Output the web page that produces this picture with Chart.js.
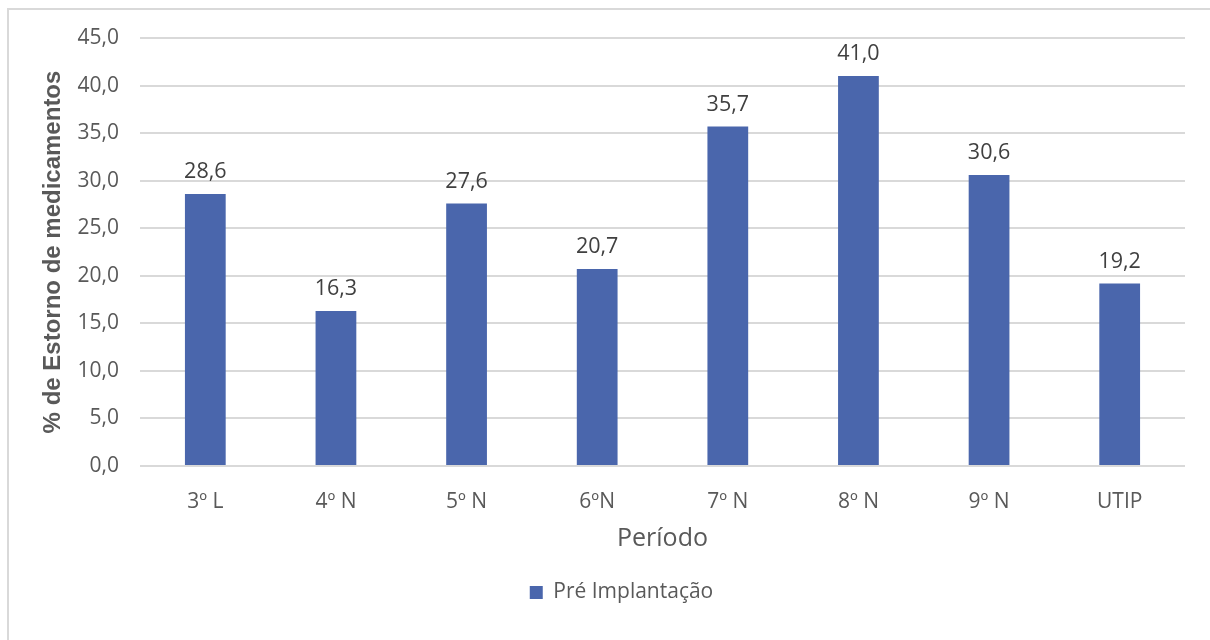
<!DOCTYPE html>
<html lang="pt">
<head>
<meta charset="utf-8">
<title>Estorno de medicamentos por período</title>
<script src="https://cdn.jsdelivr.net/npm/chart.js@4/dist/chart.umd.min.js"></script>
<style>
  html, body { margin: 0; padding: 0; background: #ffffff; }
  #wrap { position: relative; width: 1210px; height: 640px; overflow: hidden; }
  #frame {
    position: absolute; left: 7px; top: 8px; width: 1240px; height: 700px;
    border: 2px solid #d9d9d9; box-sizing: border-box;
  }
  #chart { position: absolute; left: 0; top: 0; }
</style>
</head>
<body>
<div id="wrap">
  <div id="frame"></div>
  <canvas id="chart" width="1210" height="640"></canvas>
</div>
<script>
// Períodos / unidades
const categories = ['3º L', '4º N', '5º N', '6ºN', '7º N', '8º N', '9º N', 'UTIP'];
// % de estorno de medicamentos (pré implantação)
const preImplantacao = [28.6, 16.3, 27.6, 20.7, 35.7, 41.0, 30.6, 19.2];
// Eixo Y
const yTicks = [0, 5, 10, 15, 20, 25, 30, 35, 40, 45];
const seriesName = 'Pré Implantação';
const xTitle = 'Período';
const yTitle = '% de Estorno de medicamentos';

const fmt = v => Number(v).toFixed(1).replace('.', ',');

const BAR = '#4a66ac';
const GRID = '#d9d9d9';
const TEXT = '#595959';

// Rótulos de valor acima de cada barra
const valueLabels = {
  id: 'valueLabels',
  afterDatasetsDraw(chart) {
    const ctx = chart.ctx;
    ctx.save();
    ctx.font = '21.5px "Open Sans"';
    ctx.fillStyle = '#404040';
    ctx.textAlign = 'center';
    ctx.textBaseline = 'middle';
    chart.data.datasets.forEach((ds, di) => {
      chart.getDatasetMeta(di).data.forEach((bar, i) => {
        ctx.fillText(fmt(ds.data[i]), bar.x, bar.y - 22);
      });
    });
    ctx.restore();
  }
};

// Desloca a legenda para o centro do quadro do gráfico
const legendShift = {
  id: 'legendShift',
  afterLayout(chart) {
    chart.legend.left += 29;
    chart.legend.right += 29;
  }
};

new Chart(document.getElementById('chart'), {
  type: 'bar',
  data: {
    labels: categories,
    datasets: [{
      label: seriesName,
      data: preImplantacao,
      backgroundColor: BAR,
      borderWidth: 0,
      categoryPercentage: 1,
      barPercentage: 0.312
    }]
  },
  options: {
    responsive: false,
    animation: false,
    devicePixelRatio: 1,
    layout: { padding: { top: 38, right: 25, bottom: 27, left: 0 } },
    plugins: {
      tooltip: { enabled: false },
      legend: {
        position: 'bottom',
        labels: {
          boxWidth: 13,
          boxHeight: 13,
          padding: 10,
          color: TEXT,
          font: { family: '"Open Sans"', size: 21, lineHeight: 1.2 }
        }
      }
    },
    scales: {
      x: {
        grid: { display: false },
        border: { display: false },
        ticks: {
          color: TEXT,
          padding: 15,
          font: { family: '"Open Sans"', size: 21, lineHeight: 1.2 }
        },
        title: {
          display: true,
          text: xTitle,
          color: TEXT,
          padding: { top: 0, bottom: 18 },
          font: { family: '"Open Sans"', size: 25, lineHeight: 1.2 }
        },
        afterFit(scale) { scale.height = 106; }
      },
      y: {
        min: 0,
        max: 45,
        afterBuildTicks(scale) { scale.ticks = yTicks.map(v => ({ value: v })); },
        grid: { color: GRID, lineWidth: 2, drawTicks: false },
        border: { display: false },
        ticks: {
          color: TEXT,
          padding: 21,
          font: { family: '"Open Sans"', size: 21, lineHeight: 1.2 },
          callback: v => fmt(v)
        },
        title: {
          display: true,
          text: yTitle,
          color: TEXT,
          padding: { top: 39, bottom: 0 },
          font: { family: '"Liberation Sans"', size: 24, weight: 'bold', lineHeight: 1.2 }
        },
        afterFit(scale) { scale.width = 140; }
      }
    }
  },
  plugins: [valueLabels, legendShift]
});
</script>
</body>
</html>
